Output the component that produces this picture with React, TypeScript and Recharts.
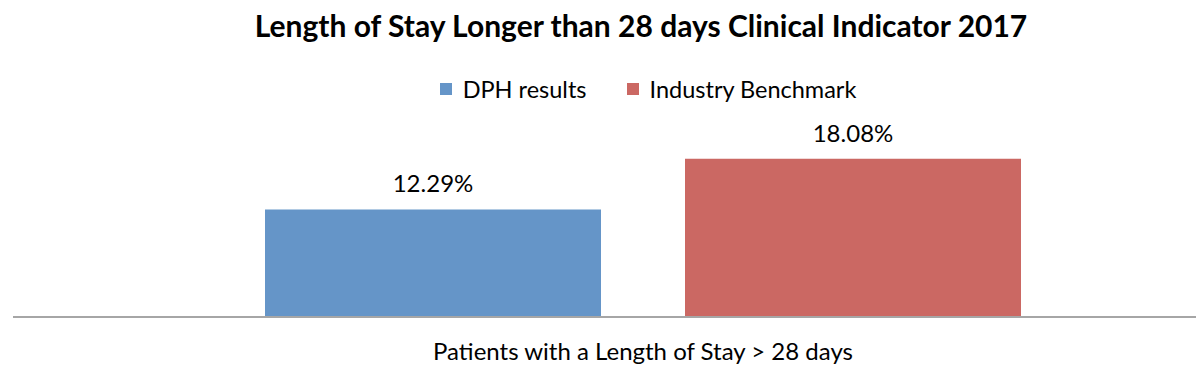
import React from 'react';
import { BarChart, Bar, XAxis, YAxis, Legend, LabelList } from 'recharts';

const categories = ['Patients with a Length of Stay > 28 days'];
const dphResults = [12.29];
const industryBenchmark = [18.08];
const seriesNames = ['DPH results', 'Industry Benchmark'];
const seriesColors = ['#6595C8', '#CB6863'];

const data = categories.map((name, i) => ({
  name,
  dph: dphResults[i],
  bench: industryBenchmark[i],
}));

const FONT = 'Lato, "Open Sans", sans-serif';

function LegendContent() {
  return (
    <div
      style={{
        display: 'flex',
        justifyContent: 'center',
        fontFamily: FONT,
        fontSize: 23.5,
        lineHeight: '24px',
        height: 24,
        color: '#000',
      }}
    >
      {seriesNames.map((n, i) => (
        <div key={n} style={{ display: 'flex', alignItems: 'center', marginRight: i === 0 ? 40 : 0 }}>
          <span style={{ width: 12, height: 12, background: seriesColors[i], display: 'inline-block', marginRight: 11 }} />
          <span>{n}</span>
        </div>
      ))}
    </div>
  );
}

export default function App() {
  return (
    <div style={{ position: 'absolute', left: 0, top: 0, width: 1196, height: 389, background: '#fff' }}>
      <div
        style={{
          position: 'absolute',
          top: 7,
          left: 43,
          width: 1196,
          textAlign: 'center',
          fontFamily: FONT,
          fontWeight: 700,
          fontSize: 30,
          color: '#000',
        }}
      >
        Length of Stay Longer than 28 days Clinical Indicator 2017
      </div>
      <BarChart width={1196} height={389} data={data} margin={{ top: 118, right: 0, left: 13, bottom: 42 }} barSize={336} barGap={84}>
        <XAxis
          dataKey="name"
          height={30}
          padding={{ left: 77, right: 0 }}
          axisLine={{ stroke: '#A6A6A6', strokeWidth: 2 }}
          tickLine={false}
          tick={{ fontSize: 24, fill: '#000', fontFamily: FONT }}
          dy={18}
        />
        <YAxis hide domain={[0, 20]} />
        <Legend
          layout="vertical"
          align="center"
          verticalAlign="top"
          content={<LegendContent />}
          wrapperStyle={{ position: 'absolute', top: 77, left: 50, width: 1196 }}
        />
        <Bar dataKey="dph" name={seriesNames[0]} fill={seriesColors[0]} isAnimationActive={false}>
          <LabelList
            dataKey="dph"
            position="top"
            offset={17}
            formatter={(v: number) => `${v.toFixed(2)}%`}
            style={{ fontSize: 24, fill: '#000', fontFamily: FONT }}
          />
        </Bar>
        <Bar dataKey="bench" name={seriesNames[1]} fill={seriesColors[1]} isAnimationActive={false}>
          <LabelList
            dataKey="bench"
            position="top"
            offset={17}
            formatter={(v: number) => `${v.toFixed(2)}%`}
            style={{ fontSize: 24, fill: '#000', fontFamily: FONT }}
          />
        </Bar>
      </BarChart>
    </div>
  );
}
